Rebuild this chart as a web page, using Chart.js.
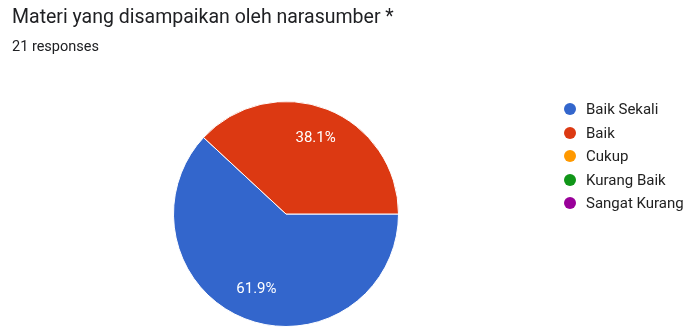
<!DOCTYPE html>
<html>
<head>
<meta charset="utf-8">
<script src="https://cdn.jsdelivr.net/npm/chart.js@4"></script>
<style>
  html,body{margin:0;padding:0;background:#fff;}
  #wrap{position:relative;width:686px;height:327px;overflow:hidden;font-family:Roboto,Arial,sans-serif;color:#202124;}
  #title{position:absolute;left:12px;top:5px;font-size:19.5px;white-space:nowrap;}
  #sub{position:absolute;left:12px;top:38px;font-size:14.5px;white-space:nowrap;}
  #chart{position:absolute;left:0;top:0;}
  .lg{position:absolute;left:564px;height:18px;line-height:18px;font-size:15px;color:#222;white-space:nowrap;}
  .lg i{display:inline-block;width:12px;height:12px;border-radius:50%;vertical-align:-1px;margin-right:10px;}
</style>
</head>
<body>
<div id="wrap">
  <canvas id="chart" width="686" height="327"></canvas>
  <div id="title"></div>
  <div id="sub"></div>
  <div id="legend"></div>
</div>
<script>
const chartTitle = 'Materi yang disampaikan oleh narasumber *';
const responseCount = 21;
const labels = ['Baik Sekali','Baik','Cukup','Kurang Baik','Sangat Kurang'];
const counts = [13, 8, 0, 0, 0];
const colors = ['#3366cc','#dc3912','#ff9900','#109618','#990099'];

document.getElementById('title').textContent = chartTitle;
document.getElementById('sub').textContent = responseCount + ' responses';

// legend
document.getElementById('legend').innerHTML = labels.map((l,i) =>
  `<div class="lg" style="top:${100 + i*23.5}px"><i style="background:${colors[i]}"></i>${l}</div>`
).join('');

const total = counts.reduce((a,b)=>a+b,0);

const pctLabels = {
  id: 'pctLabels',
  afterDatasetsDraw(chart) {
    const ctx = chart.ctx;
    const meta = chart.getDatasetMeta(0);
    ctx.save();
    ctx.fillStyle = '#fff';
    ctx.font = '15px Roboto, Arial, sans-serif';
    ctx.textAlign = 'center';
    ctx.textBaseline = 'middle';
    meta.data.forEach((arc, i) => {
      if (!counts[i]) return;
      const mid = (arc.startAngle + arc.endAngle) / 2;
      const r = arc.outerRadius * 0.72;
      const x = arc.x + Math.cos(mid) * r;
      const y = arc.y + Math.sin(mid) * r;
      ctx.fillText((counts[i] / total * 100).toFixed(1) + '%', x, y);
    });
    ctx.restore();
  }
};

new Chart(document.getElementById('chart').getContext('2d'), {
  type: 'pie',
  data: {
    labels,
    datasets: [{
      data: counts,
      backgroundColor: colors,
      borderColor: '#fff',
      borderWidth: 1,
    }]
  },
  options: {
    responsive: false,
    animation: false,
    rotation: 90,
    layout: { padding: { left: 173, right: 287, top: 101, bottom: 0 } },
    plugins: { legend: { display: false }, tooltip: { enabled: false } }
  },
  plugins: [pctLabels]
});
</script>
</body>
</html>
